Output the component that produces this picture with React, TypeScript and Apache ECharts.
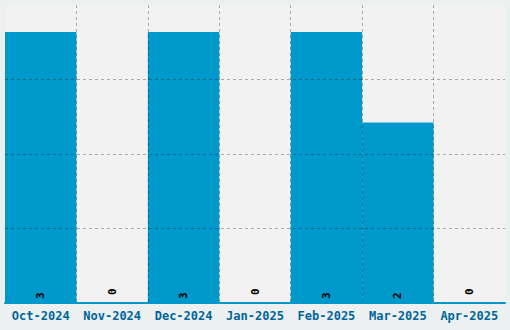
import React, { useEffect, useRef } from "react";
import * as echarts from "echarts";

const categories = ["Oct-2024", "Nov-2024", "Dec-2024", "Jan-2025", "Feb-2025", "Mar-2025", "Apr-2025"];
const values = [3, 0, 3, 0, 3, 2, 0];

export default function App() {
  const ref = useRef<HTMLDivElement>(null);
  useEffect(() => {
    const chart = echarts.init(ref.current!, null, { renderer: "svg" });
    chart.setOption({
      animation: false,
      backgroundColor: "#edf0f1",
      grid: {
        left: 5,
        right: 5,
        top: 5,
        bottom: 27,
        show: true,
        backgroundColor: "#f2f2f2",
        borderWidth: 0,
      },
      xAxis: {
        type: "category",
        data: categories,
        z: 3,
        axisTick: { show: false },
        axisLine: { show: true, lineStyle: { color: "#0099cc", width: 2 } },
        axisLabel: {
          color: "#006699",
          fontFamily: "DejaVu Sans Mono",
          fontWeight: "bold",
          fontSize: 12,
          margin: 7,
          interval: 0,
        },
        splitLine: {
          show: true,
          showMinLine: false,
          showMaxLine: false,
          lineStyle: { color: "rgba(0,0,0,0.3)", type: [3, 3], width: 1 },
        },
      },
      yAxis: {
        type: "value",
        min: 0,
        max: 3.3,
        interval: 0.825,
        z: 3,
        axisLine: { show: false },
        axisTick: { show: false },
        axisLabel: { show: false },
        splitLine: {
          show: true,
          showMinLine: false,
          showMaxLine: false,
          lineStyle: { color: "rgba(0,0,0,0.3)", type: [3, 3], width: 1 },
        },
      },
      series: [
        {
          type: "bar",
          data: values.map((v) => ({
            value: v,
            label: { distance: v === 0 ? 8 : 4 },
          })),
          barCategoryGap: "0%",
          itemStyle: { color: "#0099cc" },
          label: {
            show: true,
            position: "insideBottom",
            rotate: 90,
            align: "left",
            verticalAlign: "middle",
            distance: 4,
            color: "#000000",
            fontFamily: "DejaVu Sans Mono",
            fontWeight: "bold",
            fontSize: 11,
          },
        },
      ],
    });
    return () => chart.dispose();
  }, []);
  return (
    <div
      ref={ref}
      style={{ position: "fixed", left: 0, top: 0, width: 510, height: 330 }}
    />
  );
}
